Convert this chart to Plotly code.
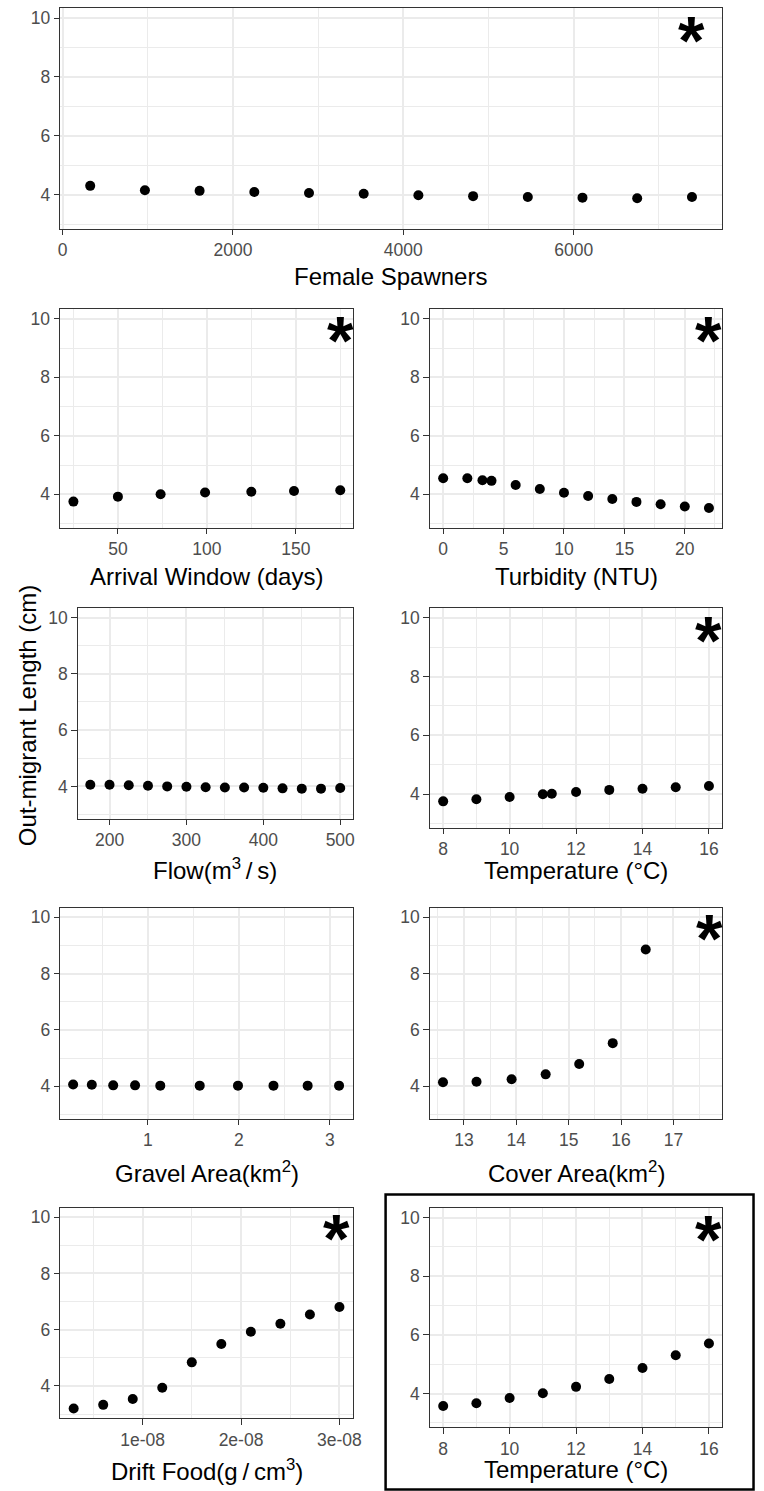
import plotly.graph_objects as go

W, H = 764, 1491

# ---------------- data ----------------
spawners_x = [325, 967, 1609, 2251, 2893, 3535, 4177, 4819, 5461, 6103, 6745, 7388]
spawners_y = [4.30, 4.15, 4.13, 4.09, 4.06, 4.03, 3.98, 3.95, 3.92, 3.90, 3.88, 3.92]

arrival_x = [25, 50, 74, 99, 125, 149, 175]
arrival_y = [3.75, 3.92, 4.00, 4.06, 4.09, 4.11, 4.14]

turbidity_x = [0, 2, 3.25, 4, 6, 8, 10, 12, 14, 16, 18, 20, 22]
turbidity_y = [4.55, 4.55, 4.48, 4.46, 4.32, 4.18, 4.05, 3.94, 3.84, 3.74, 3.66, 3.58, 3.53]

flow_x = [175, 200, 225, 250, 275, 300, 325, 350, 375, 400, 425, 450, 475, 500]
flow_y = [4.06, 4.06, 4.04, 4.02, 4.00, 3.99, 3.97, 3.96, 3.96, 3.95, 3.93, 3.92, 3.92, 3.94]

temp_x = [8, 9, 10, 11, 11.27, 12, 13, 14, 15, 16]
temp_y = [3.75, 3.82, 3.90, 3.99, 4.01, 4.07, 4.14, 4.18, 4.23, 4.27]

gravel_x = [0.18, 0.385, 0.62, 0.86, 1.137, 1.57, 1.99, 2.38, 2.755, 3.1]
gravel_y = [4.06, 4.05, 4.03, 4.03, 4.02, 4.02, 4.02, 4.02, 4.02, 4.02]

cover_x = [12.6, 13.24, 13.91, 14.56, 15.2, 15.84, 16.47]
cover_y = [4.14, 4.16, 4.25, 4.42, 4.79, 5.53, 8.86]

drift_x = [0.3e-8, 0.6e-8, 0.9e-8, 1.2e-8, 1.5e-8, 1.8e-8, 2.1e-8, 2.4e-8, 2.7e-8, 3.0e-8]
drift_y = [3.20, 3.33, 3.54, 3.94, 4.84, 5.49, 5.93, 6.21, 6.54, 6.81]

temp2_x = [8, 9, 10, 11, 12, 13, 14, 15, 16]
temp2_y = [3.58, 3.67, 3.85, 4.01, 4.23, 4.50, 4.87, 5.31, 5.71]

# significance stars (x position in data units, None = no star)
star_x = [7388, 175, 22, None, 16, None, 17.68, 2.97e-8, 16]
star_y = 9.5

# axis tick labels
y_ticks = [4, 6, 8, 10]
y_minor = [3, 5, 7, 9]

spawners_ticks = [0, 2000, 4000, 6000]
spawners_minor = [1000, 3000, 5000, 7000]
arrival_ticks = [50, 100, 150]
arrival_minor = [25, 75, 125, 175]
turbidity_ticks = [0, 5, 10, 15, 20]
turbidity_minor = [2.5, 7.5, 12.5, 17.5, 22.5]
flow_ticks = [200, 300, 400, 500]
flow_minor = [250, 350, 450]
temp_ticks = [8, 10, 12, 14, 16]
temp_minor = [9, 11, 13, 15]
gravel_ticks = [1, 2, 3]
gravel_minor = [0.5, 1.5, 2.5]
cover_ticks = [13, 14, 15, 16, 17]
cover_minor = [12.5, 13.5, 14.5, 15.5, 16.5, 17.5]
drift_ticks = [1e-8, 2e-8, 3e-8]
drift_ticktext = ["1e-08", "2e-08", "3e-08"]
drift_minor = [0.5e-8, 1.5e-8, 2.5e-8]

titles = [
    "Female Spawners",
    "Arrival Window (days)",
    "Turbidity (NTU)",
    "Flow(m<sup>3</sup>\u2009/\u2009s)",
    "Temperature (°C)",
    "Gravel Area(km<sup>2</sup>)",
    "Cover Area(km<sup>2</sup>)",
    "Drift Food(g\u2009/\u2009cm<sup>3</sup>)",
    "Temperature (°C)",
]
y_title = "Out-migrant Length (cm)"

# ---------------- layout geometry (pixels) ----------------
# left, right, top, bottom, x-range, title caps-centre y
panels = [
    (58.3, 730.0, 7.3, 227.7, [-25, 7735], 276.7),
    (58.0, 355.3, 308.3, 527.3, [17.5, 182.0], 577),
    (433.7, 730.7, 308.3, 527.3, [-1.1, 23.1], 577),
    (76.0, 355.3, 607.7, 818.3, [158.75, 516.25], 872),
    (433.7, 730.7, 607.7, 827.3, [7.6, 16.4], 871.5),
    (58.3, 355.3, 907.7, 1118.3, [0.04, 3.25], 1175),
    (433.7, 730.7, 907.7, 1118.3, [12.35, 17.93], 1175),
    (58.3, 355.3, 1207.7, 1418.3, [0.165e-8, 3.135e-8], 1473),
    (433.7, 730.7, 1207.7, 1427.3, [7.6, 16.4], 1471),
]
y_range = [2.85, 10.33]

series = [
    (spawners_x, spawners_y, spawners_ticks, None, spawners_minor),
    (arrival_x, arrival_y, arrival_ticks, None, arrival_minor),
    (turbidity_x, turbidity_y, turbidity_ticks, None, turbidity_minor),
    (flow_x, flow_y, flow_ticks, None, flow_minor),
    (temp_x, temp_y, temp_ticks, None, temp_minor),
    (gravel_x, gravel_y, gravel_ticks, None, gravel_minor),
    (cover_x, cover_y, cover_ticks, None, cover_minor),
    (drift_x, drift_y, drift_ticks, drift_ticktext, drift_minor),
    (temp2_x, temp2_y, temp_ticks, None, temp_minor),
]

FONT = "Liberation Sans, Arial, sans-serif"
GRID = "#EBEBEB"
BORDER = "#333333"

fig = go.Figure()
layout = dict(
    width=W, height=H, autosize=False,
    margin=dict(l=0, r=0, t=0, b=0),
    paper_bgcolor="white", plot_bgcolor="white",
    showlegend=False,
    font=dict(family=FONT),
)
annotations = []

def px_x(v):
    return v / W

def px_y(v):
    return 1 - v / H

for i, ((l, r, t, b, xr, ty), (xs, ys, tv, tt, mv)) in enumerate(zip(panels, series)):
    n = "" if i == 0 else str(i + 1)
    fig.add_trace(go.Scatter(
        x=xs, y=ys, mode="markers",
        marker=dict(color="black", size=10, line=dict(width=0)),
        xaxis="x" + n, yaxis="y" + n, hoverinfo="x+y",
    ))
    common = dict(
        showline=True, mirror=True, linecolor=BORDER, linewidth=1.1,
        ticks="outside", ticklen=5.5, tickwidth=1.1, tickcolor=BORDER,
        tickfont=dict(size=17.5, color="#4D4D4D", family=FONT),
        showgrid=True, gridcolor=GRID, gridwidth=1.6, zeroline=False,
        fixedrange=True,
    )
    xa = dict(common, domain=[px_x(l), px_x(r)], range=xr, anchor="y" + n,
              tickmode="array", tickvals=tv,
              minor=dict(tickmode="array", tickvals=mv, showgrid=True,
                         gridcolor=GRID, gridwidth=0.8, ticks=""))
    if tt is not None:
        xa["ticktext"] = tt
    ya = dict(common, domain=[px_y(b), px_y(t)], range=y_range, anchor="x" + n,
              tickmode="array", tickvals=y_ticks,
              minor=dict(tickmode="array", tickvals=y_minor, showgrid=True,
                         gridcolor=GRID, gridwidth=0.8, ticks=""))
    layout["xaxis" + n] = xa
    layout["yaxis" + n] = ya

    # axis title
    annotations.append(dict(
        text=titles[i], x=px_x((l + r) / 2), y=px_y(ty + 14),
        xref="paper", yref="paper", xanchor="center", yanchor="bottom",
        showarrow=False, font=dict(size=24, color="black", family=FONT),
    ))
    # significance star
    if star_x[i] is not None:
        annotations.append(dict(
            text="<b>*</b>", x=star_x[i], y=star_y, xref="x" + n, yref="y" + n,
            xanchor="center", yanchor="middle", yshift=-7,
            showarrow=False, font=dict(size=68, color="black", family=FONT),
        ))

annotations.append(dict(
    text=y_title, x=px_x(25), y=px_y(715), xref="paper", yref="paper",
    xanchor="center", yanchor="middle", textangle=-90, showarrow=False,
    font=dict(size=24, color="black", family=FONT),
))
layout["annotations"] = annotations

layout["shapes"] = [dict(
    type="rect", xref="paper", yref="paper",
    x0=px_x(388.7), x1=px_x(762.5), y0=px_y(1489.5), y1=px_y(1194.3),
    line=dict(color="black", width=2.5), fillcolor="rgba(0,0,0,0)",
)]

fig.update_layout(**layout)
fig.write_html(
    "out.html",
    config={"displayModeBar": False, "responsive": False},
    post_script=(
        "document.documentElement.style.margin='0';"
        "document.documentElement.style.overflow='hidden';"
        "document.body.style.margin='0';"
        "document.body.style.padding='0';"
        "document.body.style.overflow='hidden';"
    ),
)
